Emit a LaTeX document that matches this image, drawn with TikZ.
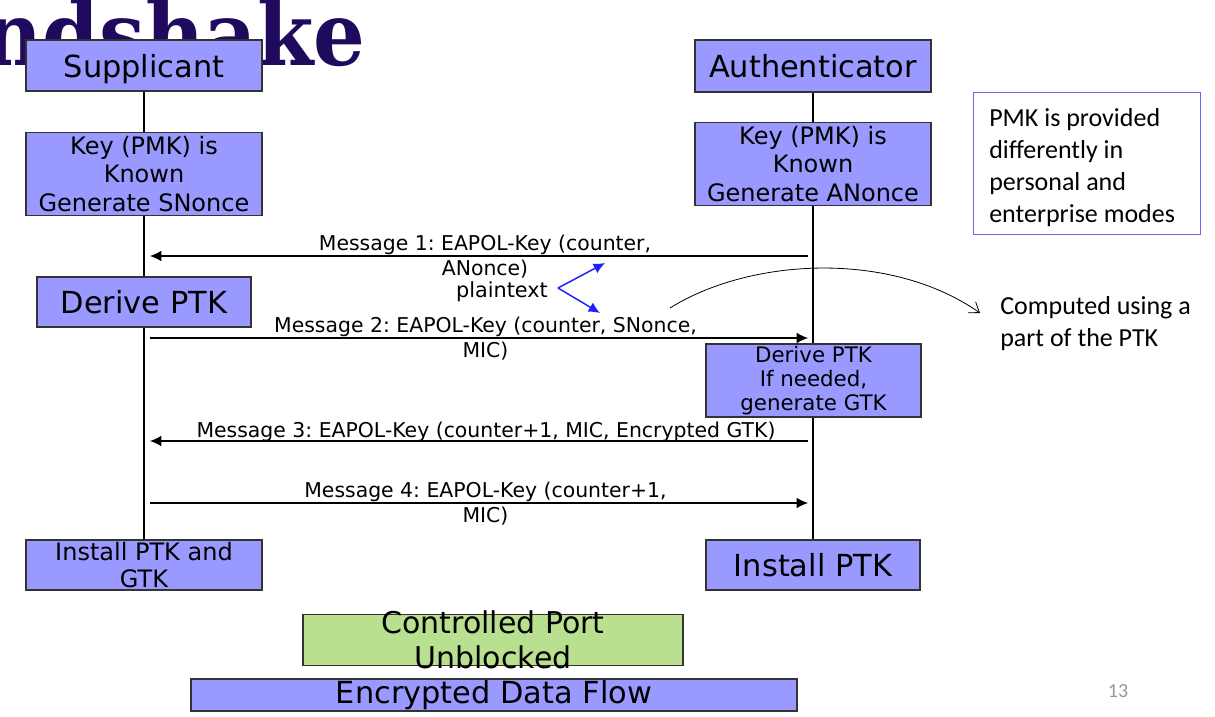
\documentclass[tikz,border=0pt]{standalone}
\usepackage{fontspec}
\setmainfont{DejaVu Sans}
\newfontfamily\calfont{Carlito}
\newfontfamily\titlefont[FakeStretch=0.925]{DejaVu Serif}
\usetikzlibrary{arrows.meta,backgrounds}
\definecolor{boxblue}{HTML}{9999FF}
\definecolor{boxgreen}{HTML}{B9E08F}
\definecolor{boxline}{HTML}{333333}
\definecolor{titlecol}{HTML}{1F0A5E}
\definecolor{notebord}{HTML}{6666EE}
\definecolor{plainblue}{HTML}{1F1FFF}
\definecolor{pagegray}{HTML}{999999}
\frenchspacing
\begin{document}
\begin{tikzpicture}[x=0.75pt,y=-0.75pt,
  box/.style={draw=boxline, line width=1.1pt, fill=boxblue, inner sep=0pt, align=center},
  bigtxt/.style={font=\fontsize{22.8pt}{27pt}\selectfont},
  keytxt/.style={font=\fontsize{18pt}{21.4pt}\selectfont},
  msgtxt/.style={font=\fontsize{15.3pt}{18.75pt}\selectfont, inner sep=0pt, align=center},
  msg/.style={line width=0.9pt, -{Latex[length=8.5pt,width=8pt]}},
  life/.style={line width=0.9pt},
  bluearr/.style={draw=plainblue, line width=1.1pt, -{Latex[length=8.5pt,width=8pt]}},
  note/.style={font=\calfont\fontsize{19.5pt}{24pt}\selectfont, align=left, inner sep=0pt},
]
\useasboundingbox (0,0) rectangle (1215,717);
\clip (0,0) rectangle (1215,717);

% title (partly cut off)
\node[anchor=base east, inner sep=0pt, text=titlecol,
      font=\titlefont\bfseries\fontsize{66pt}{66pt}\selectfont] (title) at (366,66) {ndshake};

% headers
\node[box, bigtxt, minimum width=177pt, minimum height=38.25pt, text height=17.7pt, text depth=0pt]
  (sup) at (144,65.5) {Supplicant};
\node[box, bigtxt, minimum width=177pt, minimum height=39pt, text height=17.7pt, text depth=0pt]
  (auth) at (813,66) {Authenticator};

% key boxes
\node[box, keytxt, minimum width=177pt, minimum height=62.25pt] (keyS) at (144,174)
  {Key (PMK) is\\Known\\Generate SNonce};
\node[box, keytxt, minimum width=177pt, minimum height=62.25pt] (keyA) at (813,164)
  {Key (PMK) is\\Known\\Generate ANonce};

% note
\node[draw=notebord, line width=0.7pt, fill=white, minimum width=170.25pt,
      minimum height=106.5pt] (pmk) at (1086.5,163) {};
\node[note, anchor=west] (pmktxt) at (989,168)
  {PMK is provided\\differently in\\personal and\\enterprise modes};

% derive boxes
\node[box, bigtxt, minimum width=160.5pt, minimum height=37.5pt] (derS) at (144,302) {Derive PTK};
\node[box, font=\fontsize{16pt}{18pt}\selectfont, minimum width=161.25pt, minimum height=54.75pt]
  (derA) at (813.5,380.5) {Derive PTK\\If needed,\\generate GTK};

% install boxes
\node[box, font=\fontsize{18pt}{20.6pt}\selectfont, minimum width=177pt, minimum height=37.5pt]
  (instS) at (144,565) {Install PTK and\\GTK};
\node[box, bigtxt, minimum width=160.5pt, minimum height=37.5pt] (instA) at (813,565) {Install PTK};

% bottom boxes
\node[box, fill=boxgreen, minimum width=285pt, minimum height=38.6pt] (ctrl) at (493,640) {};
\node[inner sep=0pt, align=center, font=\fontsize{22.5pt}{26.25pt}\selectfont] (ctrltxt) at (493,640)
  {Controlled Port\\Unblocked};
\node[box, bigtxt, minimum width=454.5pt, minimum height=24pt] (enc) at (494,695) {Encrypted Data Flow};

% lifelines
\begin{scope}[on background layer]
\fill[white] (0,0) rectangle (1215,717);
\draw[life] (sup) -- (instS);
\draw[life] (auth) -- (instA);
\end{scope}

% message end points
\coordinate (a1) at (808,256); \coordinate (s1) at (150,256);
\coordinate (s2) at (150,338); \coordinate (a2) at (808,338);
\coordinate (a3) at (808,441); \coordinate (s3) at (150,441);
\coordinate (s4) at (150,503); \coordinate (a4) at (808,503);

\draw[msg] (a1) -- (s1);
\draw[msg] (s2) -- (a2);
\draw[msg] (a3) -- (s3);
\draw[msg] (s4) -- (a4);

\node[msgtxt] (m1) at (485,257) {Message 1: EAPOL-Key (counter,\\ANonce)};
\node[msgtxt] (m2) at (485.5,339) {Message 2: EAPOL-Key (counter, SNonce,\\MIC)};
\node[msgtxt, anchor=base] (m3) at (486,437) {Message 3: EAPOL-Key (counter+1, MIC, Encrypted GTK)};
\node[msgtxt] (m4) at (485.5,504) {Message 4: EAPOL-Key (counter+1,\\MIC)};

% plaintext
\node[inner sep=0pt, anchor=base, font=\fontsize{15.6pt}{18pt}\selectfont] (plain) at (502,297) {plaintext};
\coordinate (pv) at (558,288);
\coordinate (pu) at (605,263);
\coordinate (pd) at (600,313);
\draw[bluearr] (pv) -- (pu);
\draw[bluearr] (pv) -- (pd);

% computed note
\node[note, anchor=west] (comp) at (1000,324) {Computed using a\\part of the PTK};
\coordinate (cstart) at (670,308);
\coordinate (cend) at (980,313);
\draw[line width=0.6pt, -{Straight Barb[length=7pt,width=10pt]}]
  (cstart) .. controls (750,258) and (890,250) .. (cend);

% page number
\node[inner sep=0pt, text=pagegray, font=\calfont\fontsize{15pt}{18pt}\selectfont] (pg) at (1118,691) {13};
\end{tikzpicture}
\end{document}
